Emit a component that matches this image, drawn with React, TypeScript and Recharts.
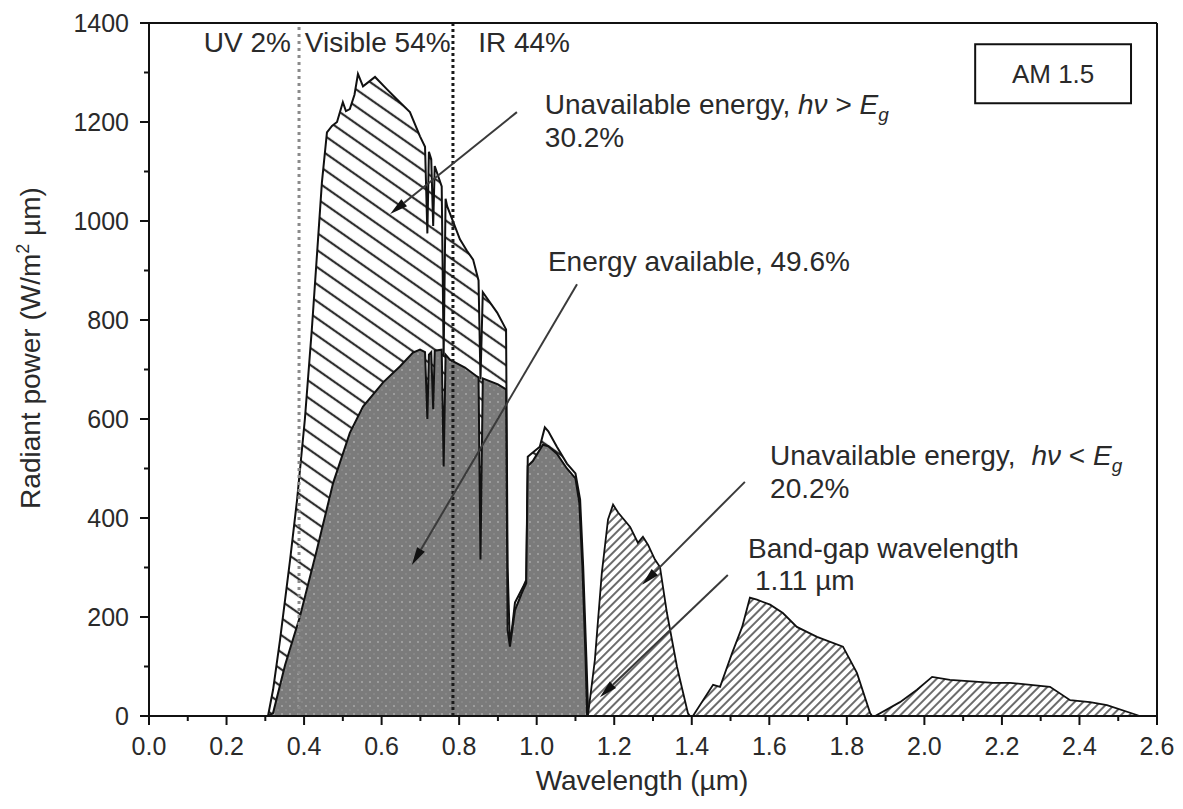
import React from 'react';
import { AreaChart, Area, XAxis, YAxis, ReferenceLine, ReferenceArea, ReferenceDot, Label } from 'recharts';

const FONT = '"Liberation Sans", Arial, Helvetica, sans-serif';
const TEXT = '#2a2a2a';
const ANN = 28;
const TICK = 25;

// Outer AM1.5 spectrum, visible/near-IR band up to the band gap (µm, W/m² µm)
const visWavelength = [0.300, 0.307, 0.320, 0.338, 0.364, 0.382, 0.402, 0.420, 0.436, 0.446, 0.459, 0.472, 0.485, 0.500, 0.508, 0.518, 0.530, 0.539, 0.552, 0.583, 0.614, 0.647, 0.673, 0.699, 0.712, 0.718, 0.722, 0.728, 0.733, 0.737, 0.755, 0.760, 0.765, 0.769, 0.802, 0.820, 0.836, 0.850, 0.855, 0.861, 0.898, 0.921, 0.925, 0.931, 0.944, 0.965, 0.973, 0.977, 0.983, 1.008, 1.021, 1.030, 1.052, 1.078, 1.100, 1.112, 1.120, 1.128, 1.133];
const visTotal = [0, 0, 53, 154, 316, 437, 599, 781, 963, 1078, 1179, 1192, 1200, 1240, 1222, 1226, 1255, 1297, 1272, 1291, 1266, 1240, 1220, 1171, 1150, 975, 1140, 1125, 990, 1111, 1070, 726, 1045, 1030, 963, 940, 922, 880, 680, 856, 815, 781, 300, 140, 229, 261, 275, 524, 528, 544, 583, 575, 544, 510, 490, 437, 300, 120, 0];

// Energy available (photons above band gap)
const availWavelength = [0.307, 0.320, 0.351, 0.389, 0.433, 0.475, 0.518, 0.552, 0.604, 0.647, 0.681, 0.699, 0.712, 0.718, 0.722, 0.728, 0.733, 0.737, 0.755, 0.760, 0.765, 0.776, 0.815, 0.846, 0.850, 0.855, 0.861, 0.900, 0.921, 0.925, 0.931, 0.944, 0.965, 0.973, 0.977, 0.990, 1.016, 1.030, 1.052, 1.078, 1.100, 1.110, 1.118, 1.126, 1.130];
const availPower = [0, 6, 103, 200, 336, 471, 572, 625, 674, 706, 734, 740, 735, 600, 730, 735, 620, 738, 740, 504, 730, 720, 704, 686, 684, 316, 682, 670, 660, 174, 140, 214, 255, 268, 505, 515, 548, 545, 530, 500, 480, 430, 300, 120, 0];

// Infrared bands beyond the band gap
const irWavelength = [1.132, 1.150, 1.168, 1.184, 1.197, 1.210, 1.241, 1.261, 1.274, 1.287, 1.305, 1.318, 1.336, 1.362, 1.390, 1.395, 1.403, 1.455, 1.473, 1.504, 1.530, 1.550, 1.568, 1.602, 1.635, 1.671, 1.723, 1.790, 1.826, 1.860, 1.865, 1.873, 1.937, 1.981, 2.020, 2.066, 2.177, 2.221, 2.324, 2.376, 2.427, 2.471, 2.548, 2.555];
const irTotal = [0, 113, 289, 397, 427, 411, 382, 350, 362, 346, 316, 301, 208, 99, 6, 0, 0, 63, 59, 127, 180, 239, 235, 225, 208, 180, 160, 140, 87, 6, 0, 0, 28, 53, 79, 73, 67, 67, 59, 32, 28, 22, 2, 0];

const xTicks = [0, 0.1, 0.2, 0.3, 0.4, 0.5, 0.6, 0.7, 0.8, 0.9, 1.0, 1.1, 1.2, 1.3, 1.4, 1.5, 1.6, 1.7, 1.8, 1.9, 2.0, 2.1, 2.2, 2.3, 2.4, 2.5, 2.6];
const xTickLabels = ['0.0', '', '0.2', '', '0.4', '', '0.6', '', '0.8', '', '1.0', '', '1.2', '', '1.4', '', '1.6', '', '1.8', '', '2.0', '', '2.2', '', '2.4', '', '2.6'];
const yTicks = [0, 100, 200, 300, 400, 500, 600, 700, 800, 900, 1000, 1100, 1200, 1300, 1400];
const yTickLabels = ['0', '', '200', '', '400', '', '600', '', '800', '', '1000', '', '1200', '', '1400'];

const regionBounds = [0.387, 0.784];

// build one table keyed by wavelength
const rowMap = new Map<number, any>();
const put = (lam: number, key: string, v: number) => {
  const r = rowMap.get(lam) || { lam };
  r[key] = v;
  rowMap.set(lam, r);
};
visWavelength.forEach((l, i) => put(l, 'total', visTotal[i]));
availWavelength.forEach((l, i) => put(l, 'avail', availPower[i]));
irWavelength.forEach((l, i) => put(l, 'ir', irTotal[i]));
const data = Array.from(rowMap.values()).sort((a, b) => a.lam - b.lam);

const XTick = (props: any) => {
  const { x, y, payload } = props;
  const idx = xTicks.findIndex((t) => Math.abs(t - payload.value) < 1e-6);
  const lab = idx >= 0 ? xTickLabels[idx] : '';
  const major = lab !== '';
  return (
    <g>
      <line x1={x} y1={y} x2={x} y2={y + (major ? 9 : 5)} stroke="#111" strokeWidth={2} />
      {major && (
        <text x={x} y={y + 39} textAnchor="middle" fontSize={TICK} fontFamily={FONT} fill={TEXT}>{lab}</text>
      )}
    </g>
  );
};

const YTick = (props: any) => {
  const { x, y, payload } = props;
  const idx = yTicks.findIndex((t) => Math.abs(t - payload.value) < 1e-6);
  const lab = idx >= 0 ? yTickLabels[idx] : '';
  const major = lab !== '';
  return (
    <g>
      <line x1={x} y1={y} x2={x - (major ? 9 : 5)} y2={y} stroke="#111" strokeWidth={2} />
      {major && (
        <text x={x - 20} y={y + 9} textAnchor="end" fontSize={TICK} fontFamily={FONT} fill={TEXT}>{lab}</text>
      )}
    </g>
  );
};

const arrowShape = (p: any) => {
  const { x1, y1, x2, y2 } = p;
  const ang = Math.atan2(y2 - y1, x2 - x1);
  const L = 18, W = 4.5;
  const bx = x2 - L * Math.cos(ang), by = y2 - L * Math.sin(ang);
  const px = -Math.sin(ang) * W, py = Math.cos(ang) * W;
  return (
    <g>
      <line x1={x1} y1={y1} x2={bx} y2={by} stroke="#3a3a3a" strokeWidth={2} />
      <polygon points={`${x2},${y2} ${bx + px},${by + py} ${bx - px},${by - py}`} fill="#111" />
    </g>
  );
};

const textAt = (content: React.ReactNode, anchor: string = 'start') => (p: any) => (
  <text x={p.cx} y={p.cy} textAnchor={anchor} fontSize={ANN} fontFamily={FONT} fill={TEXT}>{content}</text>
);

const arrows = [
  { from: [0.949, 1220], to: [0.622, 1014] },
  { from: [1.104, 872], to: [0.678, 305] },
  { from: [1.537, 473], to: [1.272, 265] },
  { from: [1.493, 285], to: [1.163, 38] },
];

export default function App() {
  return (
    <div style={{ width: 1175, height: 800 }}>
      <AreaChart
        width={1175}
        height={800}
        data={data}
        margin={{ top: 15, right: 26, bottom: 12, left: 0 }}
        style={{ fontFamily: FONT }}
      >
        <defs>
          <pattern id="sparseHatch" patternUnits="userSpaceOnUse" width="14" height="14" patternTransform="rotate(35)">
            <rect width="14" height="14" fill="#ffffff" />
            <line x1="0" y1="7" x2="14" y2="7" stroke="#2e2e2e" strokeWidth="2.2" />
          </pattern>
          <pattern id="denseHatch" patternUnits="userSpaceOnUse" width="6" height="6" patternTransform="rotate(-45)">
            <rect width="6" height="6" fill="#ffffff" />
            <line x1="0" y1="3" x2="6" y2="3" stroke="#3a3a3a" strokeWidth="1.5" />
          </pattern>
          <pattern id="grayDots" patternUnits="userSpaceOnUse" width="8" height="8">
            <rect width="8" height="8" fill="#7b7b7b" />
            <circle cx="2" cy="2" r="1" fill="#a9a9a9" />
            <circle cx="6" cy="6" r="0.8" fill="#959595" />
          </pattern>
        </defs>
        <XAxis
          dataKey="lam"
          type="number"
          domain={[0, 2.6]}
          ticks={xTicks}
          interval={0}
          allowDataOverflow
          tick={<XTick />}
          tickLine={false}
          tickSize={0}
          tickMargin={0}
          height={80}
          axisLine={{ stroke: '#111', strokeWidth: 2 }}
          label={{
            content: () => (
              <text x={634} y={782} textAnchor="middle" fontSize={ANN} fontFamily={FONT} fill={TEXT}>Wavelength (µm)</text>
            ),
          }}
        />
        <YAxis
          type="number"
          domain={[0, 1400]}
          ticks={yTicks}
          interval={0}
          allowDataOverflow
          tick={<YTick />}
          tickLine={false}
          tickSize={0}
          tickMargin={0}
          width={141}
          axisLine={{ stroke: '#111', strokeWidth: 2 }}
          label={{
            content: () => (
              <text x={32} y={340} textAnchor="middle" fontSize={ANN} fontFamily={FONT} fill={TEXT} transform="rotate(-90 32 340)">
                Radiant power (W/m
                <tspan fontSize={18} dy={-11}>2</tspan>
                <tspan dy={11}> µm)</tspan>
              </text>
            ),
          }}
        />
        <Area type="linear" dataKey="total" stroke="#111" strokeWidth={2} fill="url(#sparseHatch)" fillOpacity={1} connectNulls isAnimationActive={false} dot={false} activeDot={false} />
        <Area type="linear" dataKey="avail" stroke="#111" strokeWidth={2} fill="url(#grayDots)" fillOpacity={1} connectNulls isAnimationActive={false} dot={false} activeDot={false} />
        <Area type="linear" dataKey="ir" stroke="#111" strokeWidth={1.8} fill="url(#denseHatch)" fillOpacity={1} connectNulls isAnimationActive={false} dot={false} activeDot={false} />

        <ReferenceLine x={regionBounds[0]} stroke="#8a8a8a" strokeWidth={3} strokeDasharray="3 4" />
        <ReferenceLine x={regionBounds[1]} stroke="#1a1a1a" strokeWidth={3} strokeDasharray="3 3" />
        <ReferenceLine y={1400} stroke="#111" strokeWidth={2} />
        <ReferenceLine x={2.6} stroke="#111" strokeWidth={2} />

        <ReferenceArea x1={2.131} x2={2.533} y1={1238} y2={1357} stroke="#111" strokeWidth={2} fill="#ffffff" fillOpacity={1}>
          <Label value="AM 1.5" position="center" fontSize={26} fontFamily={FONT} fill={TEXT} />
        </ReferenceArea>

        {arrows.map((a, i) => (
          <ReferenceLine
            key={'arr' + i}
            segment={[{ x: a.from[0], y: a.from[1] }, { x: a.to[0], y: a.to[1] }]}
            shape={arrowShape}
          />
        ))}

        <ReferenceDot x={0.366} y={1341} r={0} shape={textAt('UV 2%', 'end')} />
        <ReferenceDot x={0.402} y={1341} r={0} shape={textAt('Visible 54%')} />
        <ReferenceDot x={0.849} y={1341} r={0} shape={textAt('IR 44%')} />

        <ReferenceDot x={1.021} y={1216} r={0} shape={textAt(
          <>
            <tspan>Unavailable energy, </tspan>
            <tspan fontStyle="italic">hν</tspan>
            <tspan> &gt; </tspan>
            <tspan fontStyle="italic">E</tspan>
            <tspan fontStyle="italic" fontSize={19} dy={7}>g</tspan>
          </>
        )} />
        <ReferenceDot x={1.021} y={1149} r={0} shape={textAt('30.2%')} />
        <ReferenceDot x={1.029} y={898} r={0} shape={textAt('Energy available, 49.6%')} />
        <ReferenceDot x={1.602} y={508} r={0} shape={textAt(
          <>
            <tspan>Unavailable energy,</tspan>
            <tspan fontStyle="italic" dx={16}>hν</tspan>
            <tspan> &lt; </tspan>
            <tspan fontStyle="italic">E</tspan>
            <tspan fontStyle="italic" fontSize={19} dy={7}>g</tspan>
          </>
        )} />
        <ReferenceDot x={1.602} y={441} r={0} shape={textAt('20.2%')} />
        <ReferenceDot x={1.545} y={320} r={0} shape={textAt('Band-gap wavelength')} />
        <ReferenceDot x={1.563} y={255} r={0} shape={textAt('1.11 µm')} />
      </AreaChart>
    </div>
  );
}
